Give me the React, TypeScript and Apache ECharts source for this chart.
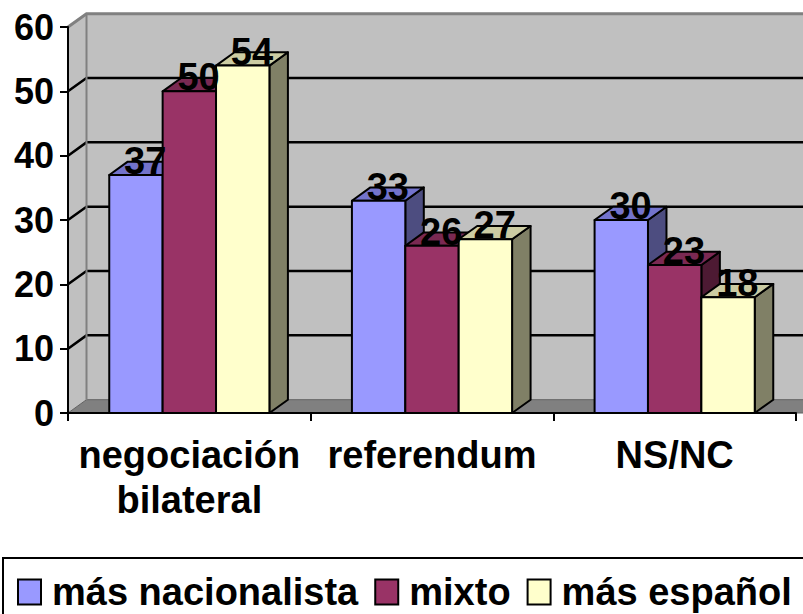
import React, { useEffect, useRef } from 'react';
import * as echarts from 'echarts';

const categories = ['negociación\nbilateral', 'referendum', 'NS/NC'];
const seriesNames = ['más nacionalista', 'mixto', 'más español'];
const masNacionalista = [37, 33, 30];
const mixto = [50, 26, 23];
const masEspanol = [54, 27, 18];
const seriesValues = [masNacionalista, mixto, masEspanol];
const yTicks = [0, 10, 20, 30, 40, 50, 60];

const FONT = '"Liberation Sans", Arial, sans-serif';
const faceColors = [
  { front: '#9999ff', top: '#7373cc', side: '#4d4d80' },
  { front: '#993366', top: '#7a2952', side: '#4d1a33' },
  { front: '#ffffcc', top: '#cccca3', side: '#808066' },
];
const DX = 18.5;
const DY = -13.3;

const makeBarRender = (sIdx: number) => (params: any, api: any) => {
  const cat = api.value(0);
  const val = api.value(1);
  const base = api.coord([cat, 0]);
  const top = api.coord([cat, val]);
  const band = api.size([1, 0])[0];
  const w = band * 0.22;
  const x0 = base[0] + (sIdx - 1.5) * w;
  const x1 = x0 + w;
  const y0 = base[1];
  const y1 = top[1];
  const c = faceColors[sIdx];
  const ls = { stroke: '#000', lineWidth: 2, lineJoin: 'round' };
  return {
    type: 'group',
    children: [
      {
        type: 'polygon',
        shape: { points: [[x1, y0], [x1 + DX, y0 + DY], [x1 + DX, y1 + DY], [x1, y1]] },
        style: { fill: c.side, ...ls },
      },
      {
        type: 'polygon',
        shape: { points: [[x0, y1], [x1, y1], [x1 + DX, y1 + DY], [x0 + DX, y1 + DY]] },
        style: { fill: c.top, ...ls },
      },
      {
        type: 'rect',
        shape: { x: x0, y: y1, width: w, height: y0 - y1 },
        style: { fill: c.front, ...ls },
      },
      {
        type: 'text',
        x: x0 + w / 2 + DX / 2,
        y: y1 + 5,
        z2: 100,
        style: {
          text: String(val),
          font: `bold 38px ${FONT}`,
          fill: '#000',
          align: 'center',
          verticalAlign: 'bottom',
        },
      },
    ],
  };
};

const wallsRender = (params: any, api: any) => {
  const cs = params.coordSys;
  const left = cs.x;
  const right = cs.x + cs.width;
  const top = cs.y;
  const bottom = cs.y + cs.height;
  const farRight = right + DX + 40;
  const children: any[] = [];
  children.push({
    type: 'rect',
    shape: { x: left + DX, y: top + DY, width: farRight - left - DX, height: cs.height },
    style: { fill: '#c0c0c0' },
  });
  children.push({
    type: 'polygon',
    shape: { points: [[left, top], [left + DX, top + DY], [left + DX, bottom + DY], [left, bottom]] },
    style: { fill: '#c0c0c0' },
  });
  children.push({
    type: 'polygon',
    shape: { points: [[left, bottom], [left + DX, bottom + DY], [farRight, bottom + DY], [farRight, bottom]] },
    style: { fill: '#808080', stroke: '#606060', lineWidth: 1 },
  });
  yTicks.forEach((v) => {
    if (v === 0 || v === yTicks[yTicks.length - 1]) return;
    const y = api.coord([0, v])[1];
    children.push({
      type: 'polyline',
      shape: { points: [[left, y], [left + DX, y + DY], [farRight, y + DY]] },
      style: { stroke: '#000', lineWidth: 2.5, fill: 'none' },
    });
  });
  children.push({
    type: 'polyline',
    shape: { points: [[left, top], [left + DX, top + DY], [farRight, top + DY]] },
    style: { stroke: '#808080', lineWidth: 3, fill: 'none' },
  });
  children.push({
    type: 'line',
    shape: { x1: left + DX, y1: top + DY, x2: left + DX, y2: bottom + DY },
    style: { stroke: '#808080', lineWidth: 2 },
  });
  return { type: 'group', children };
};

export default function App() {
  const ref = useRef<HTMLDivElement>(null);
  useEffect(() => {
    document.body.style.margin = '0';
    const chart = echarts.init(ref.current!, undefined, { renderer: 'svg' });
    const option: any = {
      animation: false,
      backgroundColor: '#ffffff',
      grid: { left: 68, top: 27, right: 7, bottom: 201, containLabel: false },
      xAxis: {
        type: 'category',
        data: categories,
        z: 1,
        axisLine: { show: true, lineStyle: { color: '#000', width: 2 } },
        axisTick: { show: true, length: 8, lineStyle: { color: '#000', width: 2 } },
        axisLabel: {
          interval: 0,
          margin: 19,
          fontSize: 38,
          fontWeight: 'bold',
          fontFamily: FONT,
          color: '#000',
          lineHeight: 45,
        },
      },
      yAxis: {
        type: 'value',
        min: 0,
        max: 60,
        interval: 10,
        z: 1,
        splitLine: { show: false },
        axisLine: { show: true, lineStyle: { color: '#000', width: 2 } },
        axisTick: { show: true, length: 8, lineStyle: { color: '#000', width: 2 } },
        axisLabel: {
          margin: 14,
          fontSize: 36,
          fontWeight: 'bold',
          fontFamily: FONT,
          color: '#000',
        },
      },
      legend: {
        left: 3,
        top: 558,
        width: 900,
        orient: 'horizontal',
        itemWidth: 23,
        itemHeight: 25,
        itemGap: 16,
        padding: [15, 25, 30, 14],
        borderColor: '#000',
        borderWidth: 2,
        selectedMode: false,
        textStyle: {
          fontSize: 38,
          fontWeight: 'bold',
          fontFamily: FONT,
          color: '#000',
          padding: [0, 0, 0, 6],
        },
        data: seriesNames.map((n, i) => ({
          name: n,
          icon: 'rect',
          itemStyle: { color: faceColors[i].front, borderColor: '#000', borderWidth: 2 },
        })),
      },
      series: [
        {
          type: 'custom',
          name: '__walls',
          z: 0,
          silent: true,
          renderItem: wallsRender,
          data: [[0, 0]],
          encode: { x: 0, y: 1 },
        },
        ...seriesNames.map((n, i) => ({
          type: 'custom',
          name: n,
          z: 2,
          itemStyle: { color: faceColors[i].front },
          renderItem: makeBarRender(i),
          data: seriesValues[i].map((v, j) => [j, v]),
          encode: { x: 0, y: 1 },
        })),
      ],
    };
    chart.setOption(option);
    return () => chart.dispose();
  }, []);
  return <div ref={ref} style={{ width: 803, height: 614 }} />;
}
